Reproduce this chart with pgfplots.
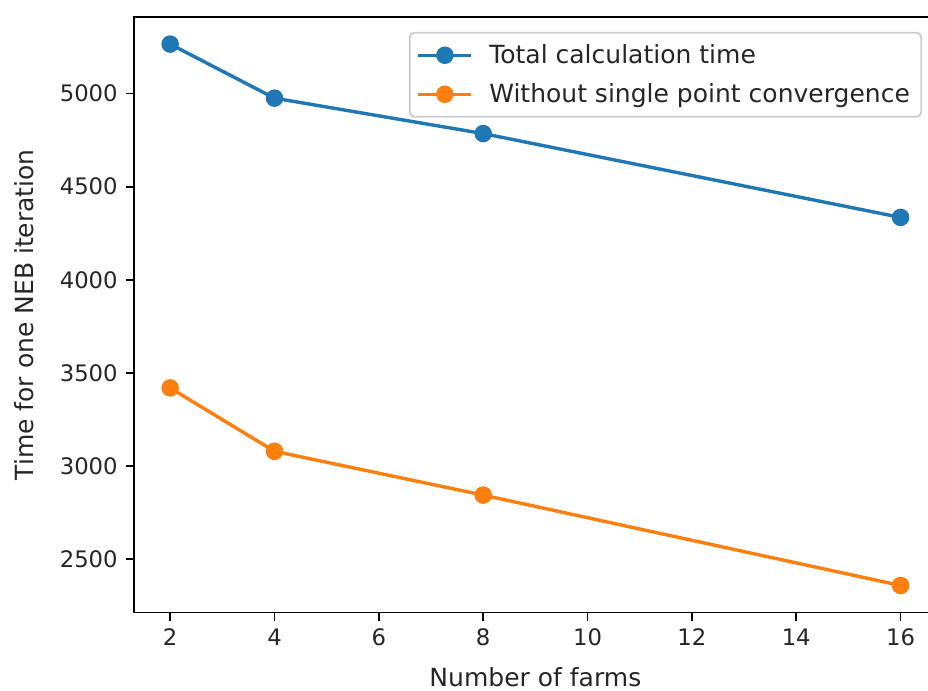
\documentclass[border=0pt]{standalone}
\usepackage{fontspec}
\setmainfont{DejaVu Sans}
\usepackage{pgfplots}
\pgfplotsset{compat=1.18}
\usetikzlibrary{calc}

\definecolor{tabblue}{HTML}{1F77B4}
\definecolor{taborange}{HTML}{FF7F0E}

\begin{document}
\begin{tikzpicture}
\begin{axis}[
    scale only axis,
    width=353.5pt, height=262pt,
    xmin=1.3, xmax=16.7,
    ymin=2214.75, ymax=5410.25,
    xtick={2,4,...,16},
    ytick={2500,3000,...,5000},
    axis line style={line width=0.8pt, black},
    tick style={line width=0.8pt, black},
    tick align=outside,
    major tick length=3.5pt,
    xtick pos=bottom, ytick pos=left,
    /pgf/number format/assume math mode=true,
    /pgf/number format/1000 sep={},
    ticklabel style={font=\fontsize{10}{12}\selectfont, text=black!85},
    xlabel={Number of farms},
    ylabel={Time for one NEB iteration},
    label style={font=\fontsize{11}{13}\selectfont, text=black!85},
    xlabel style={at={(axis description cs:0.5,-0.1234)}, anchor=base},
    ylabel style={at={(axis description cs:-0.1366,0.5)}, anchor=center},
    legend cell align=left,
    legend image code/.code={
        \draw[mark repeat=2, mark phase=2] plot coordinates {(0pt,0pt) (11.7pt,0pt) (23.3pt,0pt)};
        \path (28.5pt,0pt);
    },
    legend image post style={opacity=1},
    legend style={
        at={(0.9813,0.9753)}, anchor=north east,
        draw=black!20, line width=0.8pt, rounded corners=2pt,
        fill=white, fill opacity=0.8, text opacity=1,
        font=\fontsize{11}{13}\selectfont, text=black!85,
        row sep=3.3pt, inner xsep=3pt, inner ysep=3pt,
    },
]
\addplot[tabblue, line width=1.5pt, mark=*, mark size=3.6pt, mark options={solid, line width=0.5pt}]
    coordinates {(2,5265) (4,4975) (8,4785) (16,4335)};
\addlegendentry{Total calculation time}
\addplot[taborange, line width=1.5pt, mark=*, mark size=3.6pt, mark options={solid, line width=0.5pt}]
    coordinates {(2,3420) (4,3080) (8,2845) (16,2360)};
\addlegendentry{Without single point convergence}
\end{axis}
\pgfresetboundingbox
\path[use as bounding box] ($(current axis.south west)+(-58.8pt,-34.1pt)$) rectangle ($(current axis.south west)+(349.5pt,269.5pt)$);
\end{tikzpicture}
\end{document}
